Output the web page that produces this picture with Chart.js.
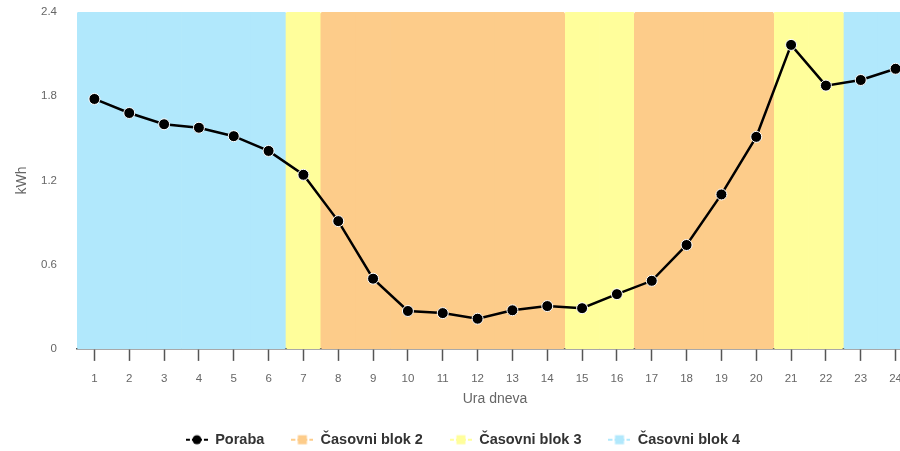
<!DOCTYPE html>
<html>
<head>
<meta charset="utf-8">
<script src="https://cdn.jsdelivr.net/npm/chart.js@4/dist/chart.umd.min.js"></script>
<style>
  html, body { margin: 0; padding: 0; background: #fff; overflow: hidden; }
  #wrap { width: 900px; height: 451px; overflow: hidden; }
</style>
</head>
<body>
<div id="wrap"><canvas id="chart" width="926" height="457"></canvas></div>
<script>
const hours = ['1','2','3','4','5','6','7','8','9','10','11','12','13','14','15','16','17','18','19','20','21','22','23','24'];
const poraba = [1.78, 1.68, 1.60, 1.575, 1.515, 1.41, 1.24, 0.91, 0.50, 0.27, 0.255, 0.215, 0.275, 0.305, 0.29, 0.39, 0.485, 0.74, 1.10, 1.51, 2.165, 1.875, 1.915, 1.995];
const hourBlock = [4, 4, 4, 4, 4, 4, 3, 2, 2, 2, 2, 2, 2, 2, 3, 3, 2, 2, 2, 2, 3, 3, 4, 4];
const blockNames = {2: 'Časovni blok 2', 3: 'Časovni blok 3', 4: 'Časovni blok 4'};
const blockColors = {2: '#fdcc8a', 3: '#fffe9b', 4: '#b1e8fc'};
const blockTop = 2.4;

const font = '"Liberation Sans", Arial, sans-serif';

// legend symbols: short line with a marker in the middle
function legendIcon(color, shape) {
    const c = document.createElement('canvas');
    c.width = 22;
    c.height = 12;
    const ctx = c.getContext('2d');
    ctx.strokeStyle = color;
    ctx.fillStyle = color;
    ctx.lineWidth = 2;
    ctx.beginPath();
    ctx.moveTo(0, 6);
    ctx.lineTo(22, 6);
    ctx.stroke();
    ctx.clearRect(4, 0, 2, 12);
    ctx.clearRect(16, 0, 2, 12);
    ctx.beginPath();
    if (shape === 'circle') {
        ctx.arc(11, 6, 4.5, 0, Math.PI * 2);
        ctx.fill();
    } else {
        ctx.fillRect(6.5, 1.5, 9, 9);
    }
    return c;
}

const icons = [legendIcon('#000', 'circle'), ...[2, 3, 4].map(b => legendIcon(blockColors[b], 'square'))];

// round only the outer corners of each block
function blockRadius(ctx) {
    const i = ctx.dataIndex;
    const b = hourBlock[i];
    const first = i === 0 || hourBlock[i - 1] !== b;
    const last = i === hourBlock.length - 1 || hourBlock[i + 1] !== b;
    const r = 3;
    return {topLeft: first ? r : 0, bottomLeft: first ? r : 0, topRight: last ? r : 0, bottomRight: last ? r : 0};
}

const blockDatasets = [2, 3, 4].map(b => ({
    type: 'bar',
    label: blockNames[b],
    data: hourBlock.map(h => h === b ? blockTop : null),
    backgroundColor: blockColors[b],
    borderWidth: 0,
    borderSkipped: false,
    borderRadius: blockRadius,
    barPercentage: 1,
    categoryPercentage: 1,
    grouped: false,
    order: 2
}));

new Chart(document.getElementById('chart'), {
    data: {
        labels: hours,
        datasets: [{
            type: 'line',
            label: 'Poraba',
            data: poraba,
            borderColor: '#000',
            borderWidth: 2.5,
            pointBackgroundColor: '#000',
            pointBorderColor: '#fff',
            pointBorderWidth: 1,
            pointRadius: 5.5,
            tension: 0,
            order: 0
        }, ...blockDatasets]
    },
    options: {
        responsive: false,
        animation: false,
        layout: {padding: {top: 0, right: 13, left: 13, bottom: 0}},
        plugins: {
            tooltip: {enabled: false},
            legend: {
                position: 'bottom',
                labels: {
                    usePointStyle: true,
                    pointStyleWidth: 22,
                    boxHeight: 12,
                    padding: 27,
                    color: '#333',
                    font: {family: font, size: 14.5, weight: 'bold'},
                    generateLabels: chart => Chart.defaults.plugins.legend.labels.generateLabels(chart)
                        .map((item, i) => ({...item, pointStyle: icons[i]}))
                }
            }
        },
        scales: {
            x: {
                offset: true,
                grid: {display: true, offset: false, drawOnChartArea: false, tickLength: 12, color: '#555', tickWidth: 1.5},
                border: {display: true, color: '#555', width: 1.5},
                ticks: {color: '#666', font: {family: font, size: 11.5}, padding: 11, maxRotation: 0},
                title: {display: true, text: 'Ura dneva', color: '#666', font: {family: font, size: 14}, padding: {top: -6, bottom: -2}}
            },
            y: {
                min: 0,
                max: 2.4,
                grid: {display: false, tickLength: 15},
                border: {display: false},
                ticks: {stepSize: 0.6, color: '#666', font: {family: font, size: 11.5}, padding: 5},
                title: {display: true, text: 'kWh', color: '#666', font: {family: font, size: 14}, padding: {top: 1, bottom: 0}},
                afterFit: scale => { scale.width = 64; }
            }
        }
    }
});
</script>
</body>
</html>
